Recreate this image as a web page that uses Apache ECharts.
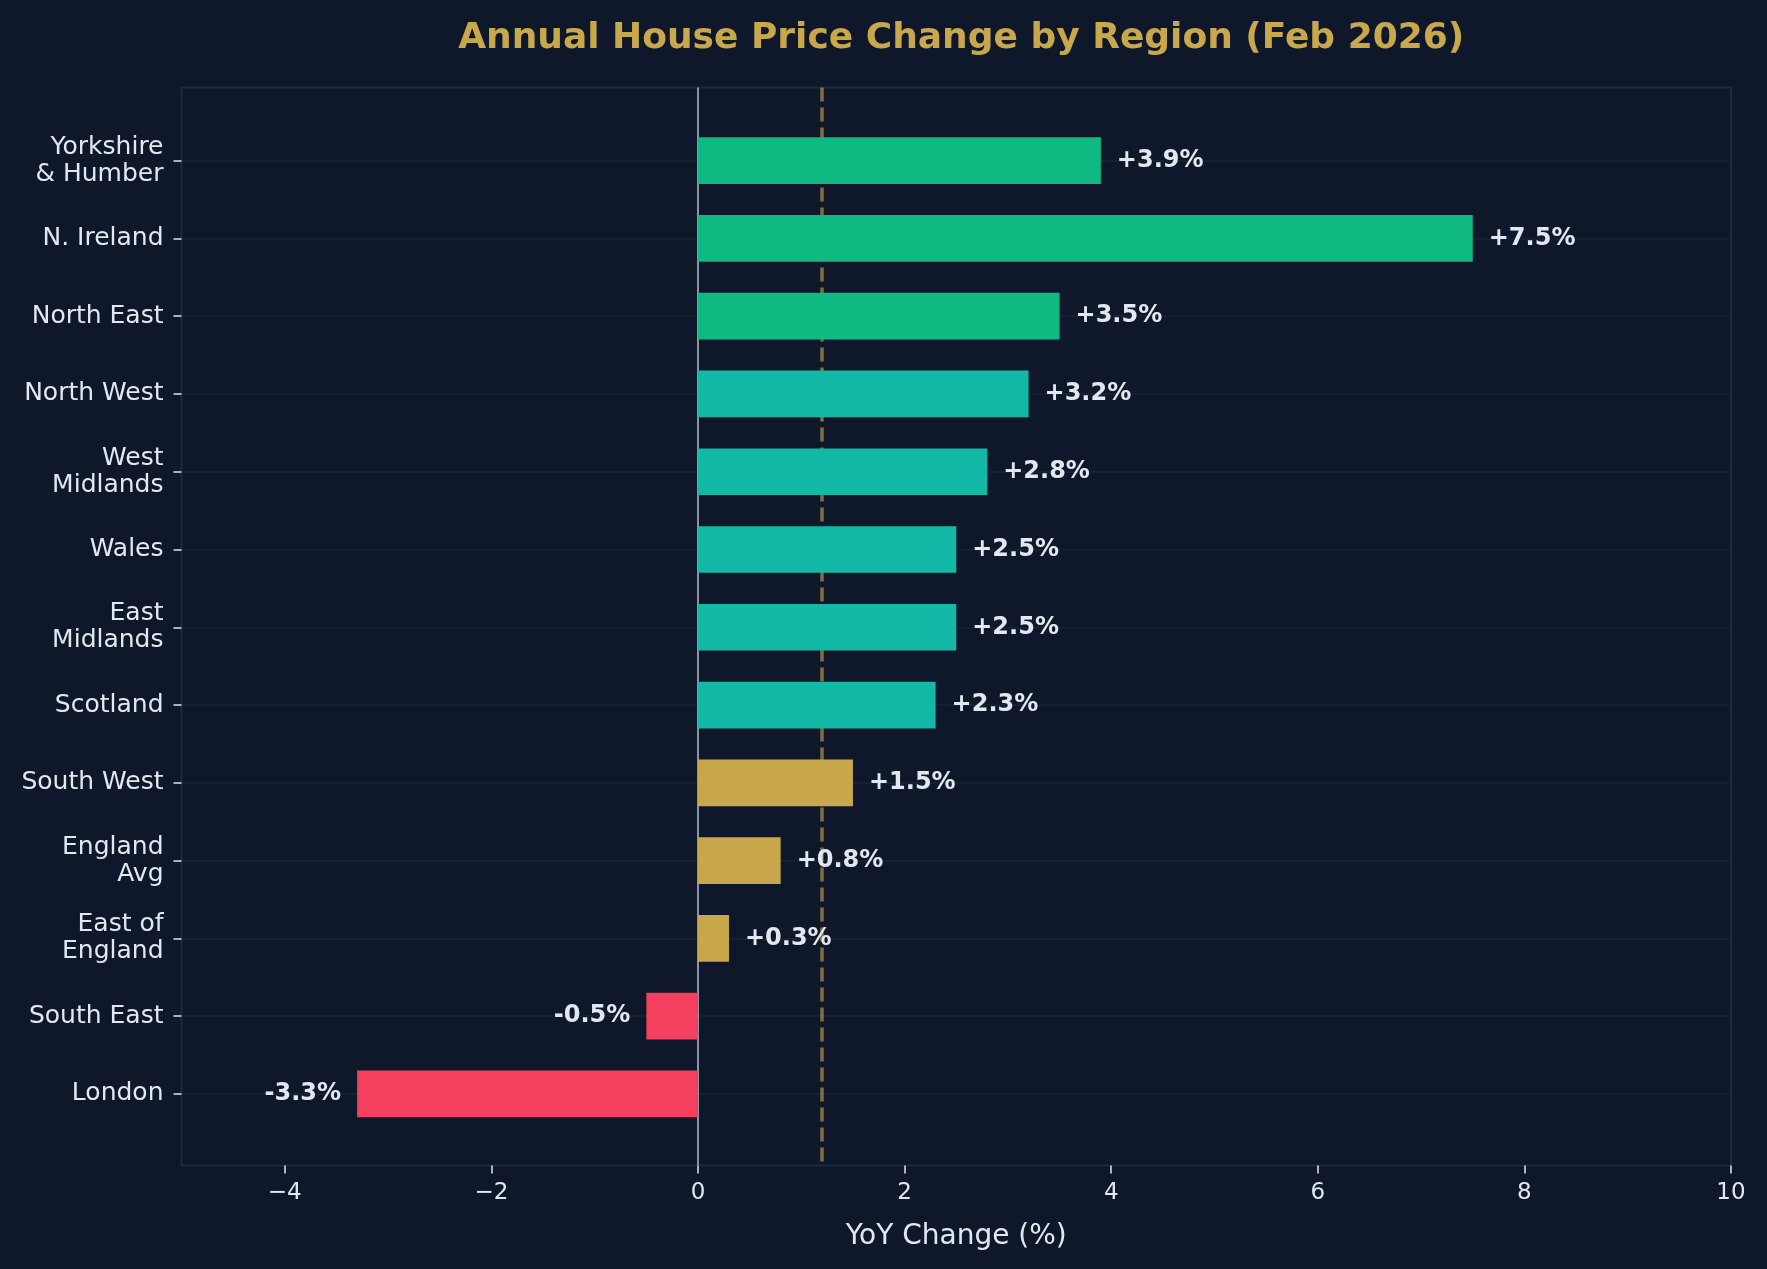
<!DOCTYPE html>
<html>
<head>
<meta charset="utf-8">
<script src="https://cdn.jsdelivr.net/npm/echarts@6/dist/echarts.min.js"></script>
<style>
    html, body { margin: 0; padding: 0; background: #0f172a; }
    #main { width: 1767px; height: 1269px; }
</style>
</head>
<body>
<div id="main"></div>
<script>
    // data
    var regions = ['Yorkshire\n& Humber', 'N. Ireland', 'North East', 'North West', 'West\nMidlands', 'Wales',
        'East\nMidlands', 'Scotland', 'South West', 'England\nAvg', 'East of\nEngland', 'South East', 'London'];
    var changes = [3.9, 7.5, 3.5, 3.2, 2.8, 2.5, 2.5, 2.3, 1.5, 0.8, 0.3, -0.5, -3.3];
    var xTicks = [-4, -2, 0, 2, 4, 6, 8, 10];
    var avgLine = 1.2;

    function colorFor(v) {
        if (v < 0) return '#f43f5e';
        if (v < 2) return '#c9a84c';
        if (v < 3.5) return '#14b8a6';
        return '#10b981';
    }

    // frame (matplotlib axes) and the band grid for the bars
    var frameTop = 87.5, frameBottom = 1165.5, left = 181.5, right = 36;
    var yMin = -0.94, yMax = 12.92;
    var unit = (frameBottom - frameTop) / (yMax - yMin);
    var bandTop = frameTop + (-0.5 - yMin) * unit;
    var bandHeight = regions.length * unit;
    var plotCenter = left + (1767 - left - right) / 2;

    var myChart = echarts.init(document.getElementById('main'));
    var option = {
        animation: false,
        backgroundColor: '#0f172a',
        textStyle: { fontFamily: 'DejaVu Sans' },
        title: {
            text: 'Annual House Price Change by Region (Feb 2026)',
            left: plotCenter,
            textAlign: 'center',
            top: 16,
            textStyle: { color: '#c9a84c', fontSize: 36, fontWeight: 'bold', fontFamily: 'DejaVu Sans' }
        },
        grid: [
            {
                left: left, right: right, top: frameTop, bottom: 1269 - frameBottom,
                show: true, borderColor: '#1f2a3c', borderWidth: 2, backgroundColor: 'transparent'
            },
            {
                left: left, right: right, top: bandTop, height: bandHeight
            }
        ],
        xAxis: [
            {
                gridIndex: 0,
                type: 'value',
                position: 'bottom',
                min: -5,
                max: 10,
                axisLine: { show: false, onZero: false },
                axisTick: { show: true, length: 8, customValues: xTicks, lineStyle: { color: '#e2e8f0', width: 1.5 } },
                axisLabel: {
                    customValues: xTicks,
                    color: '#e2e8f0',
                    fontSize: 23,
                    margin: 16,
                    formatter: function (v) { return v < 0 ? '\u2212' + Math.abs(v) : String(v); }
                },
                splitLine: { show: false },
                name: 'YoY Change (%)',
                nameLocation: 'middle',
                nameGap: 57,
                nameTextStyle: { color: '#e2e8f0', fontSize: 28 }
            },
            {
                gridIndex: 1,
                type: 'value',
                min: -5,
                max: 10,
                show: false
            }
        ],
        yAxis: [
            {
                gridIndex: 0,
                type: 'value',
                inverse: true,
                min: yMin,
                max: yMax,
                axisLine: { show: false, onZero: false },
                axisTick: { show: false, customValues: regions.map(function (r, i) { return i; }) },
                axisLabel: { show: false },
                splitLine: { show: true, lineStyle: { color: '#1a2435', width: 1.5 } }
            },
            {
                gridIndex: 1,
                type: 'category',
                position: 'left',
                data: regions,
                inverse: true,
                axisLine: { show: false, onZero: false },
                axisTick: { show: true, alignWithLabel: true, length: 8, lineStyle: { color: '#e2e8f0', width: 1.5 } },
                axisLabel: { color: '#e2e8f0', fontSize: 25, lineHeight: 27, margin: 18, align: 'right', padding: [7, 0, 0, 0] },
                splitLine: { show: false }
            }
        ],
        series: [
            {
                // holds the reference lines, drawn below the bars
                type: 'scatter',
                xAxisIndex: 0,
                yAxisIndex: 0,
                symbolSize: 0,
                silent: true,
                z: 1,
                data: changes.map(function (v, i) { return [v, i]; }),
                markLine: {
                    silent: true,
                    symbol: 'none',
                    z: 1,
                    label: { show: false },
                    data: [
                        { xAxis: 0, lineStyle: { color: '#8a94a6', width: 2, type: 'solid' } },
                        { xAxis: avgLine, lineStyle: { color: 'rgba(201,168,76,0.6)', width: 3.5, type: [14, 6] } }
                    ]
                }
            },
            {
                type: 'bar',
                xAxisIndex: 1,
                yAxisIndex: 1,
                barWidth: '60%',
                z: 3,
                data: changes.map(function (v) {
                    return {
                        value: v,
                        itemStyle: { color: colorFor(v) },
                        label: { position: v < 0 ? 'left' : 'right' }
                    };
                }),
                label: {
                    show: true,
                    distance: 16,
                    color: '#e2e8f0',
                    fontSize: 24,
                    fontWeight: 'bold',
                    formatter: function (p) {
                        var v = p.value;
                        return (v > 0 ? '+' : '') + v.toFixed(1) + '%';
                    }
                }
            }
        ]
    };

    option && myChart.setOption(option);
</script>
</body>
</html>
